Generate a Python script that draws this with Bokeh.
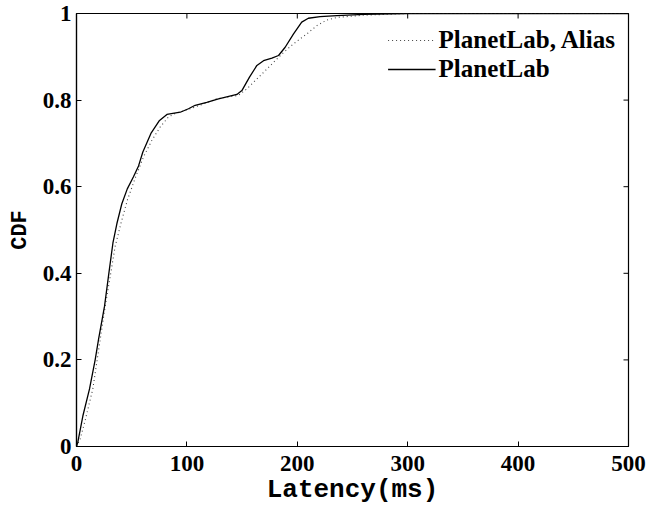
import math
from bokeh.plotting import figure
from bokeh.models import FixedTicker, Legend, LegendItem, Range1d
from bokeh.embed import file_html
from bokeh.resources import INLINE

# ---- data ----
solid_x = [0, 1.2, 5.8, 11.8, 16.9, 20, 25.4, 29.3, 33, 36.6, 41, 46, 51.6, 56.2, 60.1,
           67.4, 75.2, 81.9, 94, 101.4, 107.5, 118, 128.6, 137, 145.3, 149.8, 156.7,
           163.4, 169.4, 177, 183, 189, 196.6, 204, 210, 220.7, 235.9, 260, 300, 500]
solid_y = [0, 0.01, 0.071, 0.133, 0.2, 0.248, 0.324, 0.40, 0.47, 0.515, 0.560, 0.595,
           0.623, 0.648, 0.680, 0.723, 0.753, 0.767, 0.772, 0.780, 0.788, 0.795, 0.803,
           0.808, 0.813, 0.822, 0.853, 0.880, 0.891, 0.897, 0.903, 0.922, 0.953, 0.980,
           0.989, 0.993, 0.995, 0.998, 1.0, 1.0]

alias_x = [0, 3.4, 8.2, 14.8, 18.7, 22.4, 26, 31, 35, 40.2, 46.2, 53.2, 60.7, 68.3,
           75.8, 83.3, 89.4, 103, 115, 127, 146.7, 154.3, 161.9, 171, 180, 187.5,
           196.6, 208.7, 217.8, 226.8, 235.9, 260, 300, 500]
alias_y = [0, 0.018, 0.064, 0.133, 0.2, 0.263, 0.324, 0.40, 0.462, 0.515, 0.570, 0.620,
           0.669, 0.707, 0.738, 0.761, 0.769, 0.780, 0.791, 0.803, 0.811, 0.826, 0.845,
           0.868, 0.891, 0.910, 0.930, 0.953, 0.972, 0.985, 0.991, 0.996, 1.0, 1.0]

series_names = ["PlanetLab, Alias", "PlanetLab"]

x_ticks = [0, 100, 200, 300, 400, 500]
y_ticks = [0, 0.2, 0.4, 0.6, 0.8, 1]
y_tick_labels = ["0", "0.2", "0.4", "0.6", "0.8", "1"]

x_label = "Latency(ms)"
y_label = "CDF"

SERIF = "Liberation Serif"
MONO = "Liberation Mono"
TICK_SIZE = "23px"

p = figure(width=646, height=507, output_backend="svg", toolbar_location=None,
           x_range=Range1d(0, 500), y_range=Range1d(0, 1),
           min_border_left=76, min_border_right=18, min_border_top=13,
           min_border_bottom=59)
p.background_fill_color = "white"
p.border_fill_color = "white"
p.outline_line_color = "black"
p.outline_line_width = 1.2
p.grid.visible = False

r_alias = p.line(alias_x, alias_y, line_color="#444444", line_width=1.1, line_dash="1 3")
r_solid = p.line(solid_x, solid_y, line_color="black", line_width=1.3)

# mirrored inward ticks on the top and right frame edges
p.ray(x=x_ticks, y=[y_ticks[-1]] * len(x_ticks), length=5, length_units="screen",
      angle=-math.pi / 2, line_color="black", line_width=1)
p.ray(x=[x_ticks[-1]] * len(y_ticks), y=y_ticks, length=5, length_units="screen",
      angle=math.pi, line_color="black", line_width=1)

def style_axis(ax):
    ax.axis_line_color = "black"
    ax.axis_line_width = 1.2
    ax.major_tick_in = 5
    ax.major_tick_out = 0
    ax.major_tick_line_color = "black"
    ax.minor_tick_line_color = None
    ax.major_label_text_font = SERIF
    ax.major_label_text_font_style = "bold"
    ax.major_label_text_color = "black"
    ax.major_label_text_font_size = TICK_SIZE

xa = p.xaxis[0]
xa.ticker = FixedTicker(ticks=x_ticks)
style_axis(xa)
xa.major_label_standoff = 9
xa.axis_label = x_label
xa.axis_label_text_font = MONO
xa.axis_label_text_font_style = "bold"
xa.axis_label_text_font_size = "26px"
xa.axis_label_text_color = "black"
xa.axis_label_standoff = 1

ya = p.yaxis[0]
ya.ticker = FixedTicker(ticks=y_ticks)
ya.major_label_overrides = {t: s for t, s in zip(y_ticks, y_tick_labels)}
style_axis(ya)
ya.major_label_standoff = 5
ya.axis_label = y_label
ya.axis_label_text_font = MONO
ya.axis_label_text_font_style = "bold"
ya.axis_label_text_font_size = "22px"
ya.axis_label_text_color = "black"
ya.axis_label_standoff = 7

legend = Legend(items=[LegendItem(label=series_names[0], renderers=[r_alias]),
                       LegendItem(label=series_names[1], renderers=[r_solid])],
                location="top_right")
legend.background_fill_alpha = 0
legend.border_line_color = None
legend.label_text_font = SERIF
legend.label_text_font_style = "bold"
legend.label_text_font_size = "25px"
legend.label_text_color = "black"
legend.glyph_width = 48
legend.label_standoff = 3
legend.padding = 4
legend.margin = 13
legend.spacing = 1
p.add_layout(legend, "center")

open("out.html", "w").write(file_html(p, INLINE))
